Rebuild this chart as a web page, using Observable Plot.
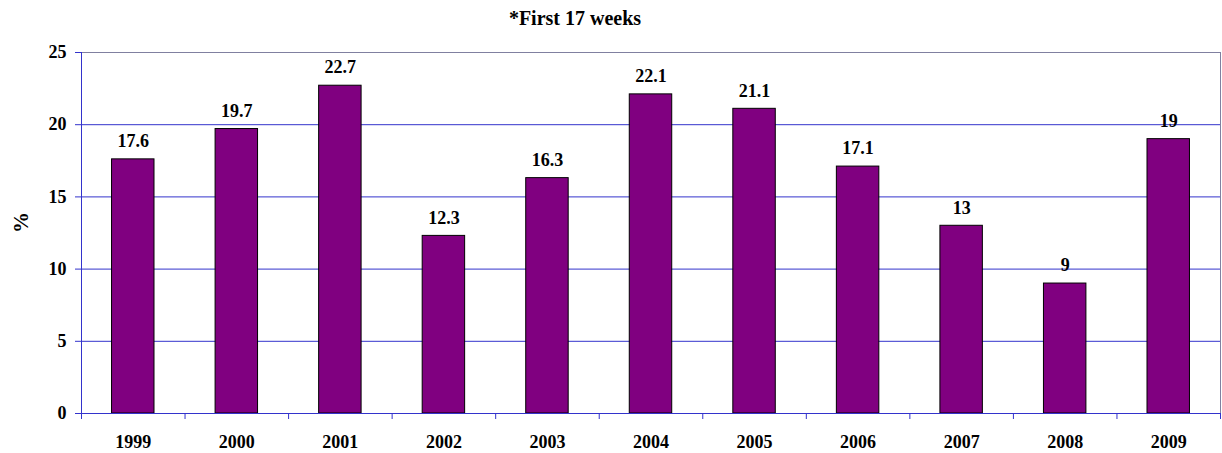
<!DOCTYPE html>
<html>
<head>
<meta charset="utf-8">
<script src="https://cdn.jsdelivr.net/npm/d3@7"></script>
<script src="https://cdn.jsdelivr.net/npm/@observablehq/plot@0.6"></script>
<style>
  body { margin: 0; background: #fff; font-family: 'Liberation Serif', 'Times New Roman', serif; }
  #title { height: 36px; width: 1150px; text-align: center; font-weight: bold; font-size: 20px; line-height: 36px; font-family: 'Liberation Serif', 'Times New Roman', serif; }
  svg { display: block; }
</style>
</head>
<body>
<div id="title">*First 17 weeks</div>
<div id="chart"></div>
<script>
const years = ["1999","2000","2001","2002","2003","2004","2005","2006","2007","2008","2009"];
const values = [17.6, 19.7, 22.7, 12.3, 16.3, 22.1, 21.1, 17.1, 13, 9, 19];
const yTicks = [0, 5, 10, 15, 20, 25];
const gridTicks = [5, 10, 15, 20];
const yLabel = "%";

const data = years.map((y, i) => ({year: y, value: values[i]}));

const W = 1222, H = 417, ML = 81, MR = 2, MT = 16, MB = 40;
const step = (W - ML - MR) / years.length;
const blue = "#3333cc";
const grey = "#8080a0";
const serif = "'Liberation Serif', 'Times New Roman', serif";

const chart = Plot.plot({
  width: W,
  height: H,
  marginLeft: ML,
  marginRight: MR,
  marginTop: MT,
  marginBottom: MB,
  style: {fontFamily: serif, fontWeight: "bold", fontSize: "18px", color: "#000", background: "#fff"},
  x: {domain: years, paddingInner: 0.59, paddingOuter: 0.295, align: 0.5, round: false, label: null},
  y: {domain: [0, 25], label: null},
  marks: [
    Plot.frame({stroke: grey}),
    Plot.gridY(gridTicks, {stroke: blue, strokeOpacity: 1}),
    Plot.barY(data, {x: "year", y: "value", fill: "#800080", stroke: "#000", strokeWidth: 1}),
    Plot.text(data, {x: "year", y: "value", text: d => String(d.value), lineAnchor: "middle", dy: -18, fontSize: 18, fontWeight: "bold", fill: "#000", fontFamily: serif}),
    Plot.ruleX([years[0]], {x: d => d, dx: -step / 2, y1: 0, y2: 25, stroke: blue}),
    Plot.ruleY([0], {stroke: blue}),
    Plot.axisY({ticks: yTicks, tickSize: 6, tickPadding: 9, stroke: blue, fill: "#000", label: null, fontSize: 18, fontWeight: "bold", fontFamily: serif}),
    Plot.ruleX(years, {x: d => d, dx: step / 2, y1: 0, y2: 0, insetBottom: -6, stroke: blue}),
    Plot.ruleX([years[0]], {x: d => d, dx: -step / 2, y1: 0, y2: 0, insetBottom: -6, stroke: blue}),
    Plot.axisX({tickSize: 0, tickPadding: 22, label: null, fontSize: 18, fontWeight: "bold", fill: "#000", fontFamily: serif}),
    Plot.text([yLabel], {frameAnchor: "left", rotate: -90, dx: -60, fontSize: 21, fontWeight: "bold", fill: "#000", fontFamily: serif})
  ]
});
document.getElementById("chart").appendChild(chart);
</script>
</body>
</html>
